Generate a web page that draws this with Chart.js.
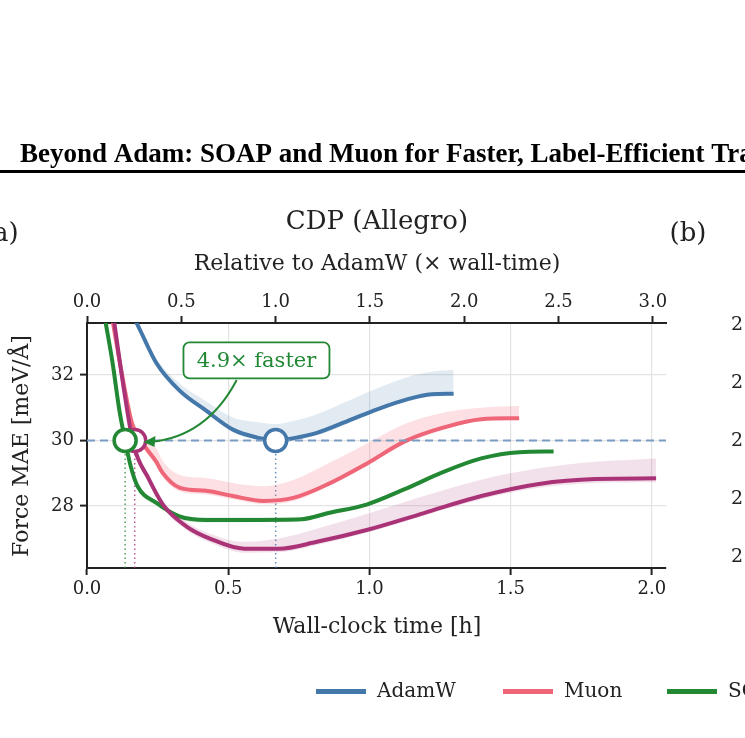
<!DOCTYPE html>
<html><head><meta charset="utf-8">
<script src="https://cdn.jsdelivr.net/npm/chart.js@4/dist/chart.umd.min.js"></script>
<style>html,body{margin:0;padding:0;background:#fff}#wrap{width:745px;height:738px;position:relative}</style>
</head><body><div id="wrap"><canvas id="c" width="745" height="738"></canvas></div>
<script>
const adamT=[0.17,0.192,0.246,0.327,0.422,0.517,0.611,0.668,0.733,0.814,0.922,1.03,1.139,1.22,1.298];
const adamY=[33.7,33.3,32.36,31.53,30.91,30.33,30.07,29.99,30.07,30.23,30.59,30.96,31.27,31.41,31.43];
const adamHi=[33.7,33.4,32.5,31.75,31.2,30.7,30.55,30.5,30.6,30.8,31.2,31.6,31.95,32.1,32.15];
const adamLo=[33.6,33.2,32.3,31.45,30.85,30.25,30.0,29.95,30.0,30.15,30.5,30.9,31.2,31.35,31.38];
const muonT=[0.09,0.12,0.16,0.192,0.246,0.266,0.327,0.422,0.517,0.625,0.733,0.855,0.99,1.125,1.26,1.396,1.53];
const muonY=[33.7,32.2,30.5,29.97,29.34,29.03,28.56,28.46,28.3,28.15,28.25,28.67,29.29,29.97,30.39,30.65,30.68];
const muonHi=[33.7,32.3,30.7,30.2,29.75,29.4,28.95,28.85,28.7,28.6,28.8,29.3,29.9,30.5,30.85,31.0,31.05];
const muonLo=[33.6,32.1,30.4,29.85,29.2,28.9,28.45,28.35,28.2,28.05,28.15,28.6,29.2,29.9,30.3,30.6,30.62];
const soapT=[0.064,0.09,0.115,0.135,0.155,0.179,0.246,0.327,0.422,0.584,0.76,0.855,0.99,1.125,1.26,1.396,1.53,1.652];
const soapY=[33.7,32.4,30.9,30.0,29.2,28.6,28.09,27.68,27.57,27.57,27.59,27.78,28.04,28.51,29.03,29.45,29.64,29.66];
const soapHi=[33.7,32.5,31.0,30.1,29.3,28.7,28.15,27.75,27.65,27.65,27.65,27.85,28.1,28.56,29.08,29.5,29.68,29.7];
const soapLo=[33.6,32.3,30.8,29.9,29.1,28.5,28.0,27.6,27.48,27.5,27.53,27.72,27.98,28.46,28.98,29.4,29.6,29.62];
const purpT=[0.095,0.13,0.165,0.219,0.273,0.354,0.435,0.557,0.679,0.814,0.99,1.193,1.396,1.6,1.8,2.015];
const purpY=[33.7,31.6,29.86,28.82,27.99,27.36,27.0,26.69,26.69,26.9,27.26,27.78,28.3,28.67,28.82,28.84];
const purpHi=[33.7,31.7,30.0,28.95,28.1,27.5,27.15,26.9,27.0,27.3,27.75,28.3,28.8,29.15,29.35,29.45];
const purpLo=[33.6,31.5,29.75,28.7,27.88,27.25,26.88,26.57,26.58,26.8,27.18,27.7,28.2,28.55,28.7,28.72];
const markerT=[0.668,0.169,0.135];
const baseLevel=30.0;
const xTicks=[0,0.5,1.0,1.5,2.0];
const topTicks=[0,0.5,1.0,1.5,2.0,2.5,3.0];
const yTicks=[28,30,32];
const rightLabels=['2','2','2','2','2'];
const legendNames=['AdamW','Muon','SOAP'];

const C={adam:'#4477aa',muon:'#ee6677',soap:'#228833',purp:'#aa3377'};
const pts=(t,y)=>t.map((v,i)=>({x:v,y:y[i]}));
const rgba=(h,a)=>{const n=parseInt(h.slice(1),16);return `rgba(${n>>16},${(n>>8)&255},${n&255},${a})`;};
const ds=[];
let ord=100;
const lineOpts={cubicInterpolationMode:'monotone'};
function series(t,y,hi,lo,col,a){
  ds.push({data:pts(t,hi),borderWidth:0,pointRadius:0,fill:'+1',backgroundColor:rgba(col,a),order:ord--,...lineOpts});
  ds.push({data:pts(t,lo),borderWidth:0,pointRadius:0,fill:false,order:ord--,...lineOpts});
  ds.push({data:pts(t,y),borderColor:col,borderWidth:4,pointRadius:0,fill:false,order:ord--,...lineOpts});
}
[[markerT[0],C.adam],[markerT[1],C.purp],[markerT[2],C.soap]].forEach(([t,c])=>ds.push({data:[{x:t,y:baseLevel},{x:t,y:26.1}],borderColor:rgba(c,0.8),borderWidth:1.5,borderDash:[1.5,3],pointRadius:0,order:ord--}));
series(adamT,adamY,adamHi,adamLo,C.adam,0.15);
series(soapT,soapY,soapHi,soapLo,C.soap,0.12);
series(muonT,muonY,muonHi,muonLo,C.muon,0.2);
series(purpT,purpY,purpHi,purpLo,C.purp,0.15);
ds.push({data:[{x:0,y:baseLevel},{x:2.06,y:baseLevel}],borderColor:'#7b9cc3',borderWidth:2,borderDash:[8,5],pointRadius:0,order:ord--});
const mk=(t,c)=>ds.push({type:'scatter',data:[{x:t,y:baseLevel}],pointRadius:11,pointBackgroundColor:'#fff',backgroundColor:'#fff',pointBorderColor:c,borderColor:c,pointBorderWidth:3.5,order:ord--});
mk(markerT[1],C.purp);mk(markerT[0],C.adam);mk(markerT[2],C.soap);

const F='"DejaVu Serif", serif';
const deco={id:'deco',afterDraw(ch){
  const g=ch.ctx,xs=ch.scales.x,ys=ch.scales.y;
  g.save();
  g.fillStyle='#000';g.font='bold 27px "Liberation Serif", serif';g.textAlign='left';g.textBaseline='middle';
  g.fillText('Beyond Adam: SOAP and Muon for Faster, Label-Efficient Training',20,155);
  g.fillRect(0,170,745,3);
  g.fillStyle='#222';g.font='26px '+F;g.textAlign='center';
  g.fillText('CDP (Allegro)',377,222);
  g.fillText('(b)',688,234);g.textAlign='left';g.fillText('a)',-7,234);
  g.font='22px '+F;g.textAlign='center';
  g.fillText('Relative to AdamW (\u00d7 wall-time)',377,264);
  g.fillText('Wall-clock time [h]',377,627);
  g.save();g.translate(22,446);g.rotate(-Math.PI/2);g.fillText('Force MAE [meV/\u00c5]',0,0);g.restore();
  g.font='19px '+F;g.textAlign='left';
  [325,383,441,499,557].forEach((y,i)=>g.fillText(rightLabels[i],731,y));
  g.font='20px '+F;
  [[316,C.adam,legendNames[0]],[503,C.muon,legendNames[1]],[667,C.soap,legendNames[2]]].forEach(([x,c,n])=>{
    g.fillStyle=c;g.fillRect(x,689,50,5);g.fillStyle='#222';g.fillText(n,x+61,692);});
  const bx=xs.getPixelForValue(0.6),by=ys.getPixelForValue(32.45);
  const ax=xs.getPixelForValue(0.53),ay=ys.getPixelForValue(31.85);
  const tx=xs.getPixelForValue(0.2),ty=ys.getPixelForValue(29.95);
  g.strokeStyle=C.soap;g.lineWidth=2;g.beginPath();g.moveTo(ax,ay);
  g.quadraticCurveTo(ax-30,ty-5,tx+6,ty);g.stroke();
  g.fillStyle=C.soap;g.beginPath();g.moveTo(tx,ty);g.lineTo(tx+12,ty-6);g.lineTo(tx+11,ty+5);g.closePath();g.fill();
  const w=146,h=36;g.fillStyle='#fff';g.beginPath();g.roundRect(bx-w/2,by-h/2,w,h,6);g.fill();g.lineWidth=1.8;g.stroke();
  g.fillStyle=C.soap;g.font='21px '+F;g.textAlign='center';g.fillText('4.9\u00d7 faster',bx,by+1);
  g.restore();
}};
const tickFont={family:F,size:18};
new Chart(document.getElementById('c'),{type:'line',data:{datasets:ds},plugins:[deco],
 options:{responsive:false,animation:false,devicePixelRatio:1,
  layout:{padding:{left:0,right:79,top:0,bottom:0}},
  plugins:{legend:{display:false},tooltip:{enabled:false}},
  scales:{
   x:{type:'linear',min:0,max:2.05,afterFit:s=>{s.height=170;},
     afterBuildTicks:s=>{s.ticks=xTicks.map(v=>({value:v}));},
     ticks:{font:tickFont,color:'#222',callback:v=>v.toFixed(1),padding:4,maxRotation:0},
     grid:{color:'#e3e3e3',lineWidth:1.2,tickLength:7,tickColor:'#222',tickWidth:2},border:{color:'#222',width:2}},
   x2:{type:'linear',position:'top',min:0,max:3.07,afterFit:s=>{s.height=323;},
     afterBuildTicks:s=>{s.ticks=topTicks.map(v=>({value:v}));},
     ticks:{font:tickFont,color:'#222',callback:v=>v.toFixed(1),padding:3,maxRotation:0},
     grid:{drawOnChartArea:false,tickLength:7,tickColor:'#222',tickWidth:2},border:{color:'#222',width:2}},
   y:{type:'linear',min:26.1,max:33.59,afterFit:s=>{s.width=87;},
     afterBuildTicks:s=>{s.ticks=yTicks.map(v=>({value:v}));},
     ticks:{font:tickFont,color:'#222',padding:6},
     grid:{color:'#e3e3e3',lineWidth:1.2,tickLength:7,tickColor:'#222',tickWidth:2},border:{color:'#222',width:2}}
  }}});
</script></body></html>
